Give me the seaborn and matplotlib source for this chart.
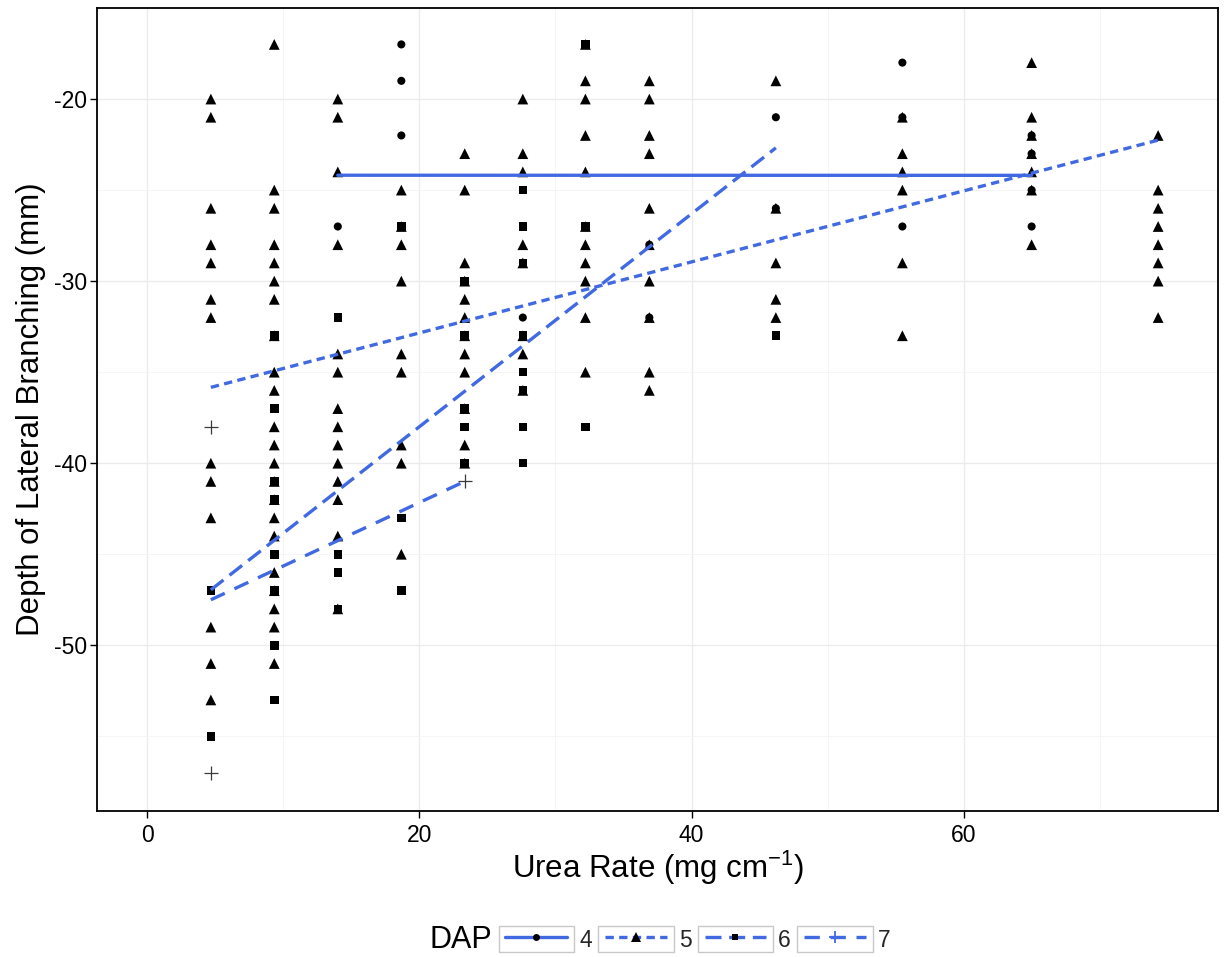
import numpy as np
import pandas as pd
import matplotlib
matplotlib.use("Agg")
import matplotlib.pyplot as plt
import seaborn as sns
from matplotlib.lines import Line2D
from matplotlib.patches import Rectangle
from matplotlib.legend_handler import HandlerLine2D

# ---------------- data ----------------
dap_levels = [4, 5, 6, 7]

dap4_x = [14, 18.67, 18.67, 18.67, 27.6, 36.9, 36.9, 46.2, 46.2, 55.5, 55.5, 55.5, 65, 65, 65, 65]
dap4_y = [-27, -17, -19, -22, -32, -28, -32, -21, -26, -18, -21, -27, -22, -23, -25, -27]

dap5_x = ([4.67] * 13 + [9.33] * 22 + [14] * 14 + [18.67] * 9 + [23.33] * 12 + [27.6] * 8 +
          [32.2] * 11 + [36.9] * 10 + [46.2] * 5 + [55.5] * 6 + [65] * 7 + [74.3] * 8)
dap5_y = ([-20, -21, -26, -28, -29, -31, -32, -40, -41, -43, -49, -51, -53] +
          [-17, -25, -26, -28, -29, -30, -31, -33, -35, -36, -38, -39, -40, -41, -42, -43, -44, -46,
           -47, -48, -49, -51] +
          [-20, -21, -24, -28, -34, -35, -37, -38, -39, -40, -41, -42, -44, -48] +
          [-25, -27, -28, -30, -34, -35, -39, -40, -45] +
          [-23, -25, -29, -30, -31, -32, -33, -34, -35, -37, -39, -40] +
          [-20, -23, -24, -28, -29, -33, -34, -36] +
          [-17, -19, -20, -22, -24, -27, -28, -29, -30, -32, -35] +
          [-19, -20, -22, -23, -26, -28, -30, -32, -35, -36] +
          [-19, -26, -29, -31, -32] +
          [-21, -23, -24, -25, -29, -33] +
          [-18, -21, -22, -23, -24, -25, -28] +
          [-22, -25, -26, -27, -28, -29, -30, -32])

dap6_x = ([4.67] * 2 + [9.33] * 8 + [14] * 4 + [18.67] * 3 + [23.33] * 5 + [27.6] * 8 +
          [32.2] * 3 + [46.2] * 1)
dap6_y = ([-47, -55] +
          [-33, -37, -41, -42, -45, -47, -50, -53] +
          [-32, -45, -46, -48] +
          [-27, -43, -47] +
          [-30, -33, -37, -38, -40] +
          [-25, -27, -29, -33, -35, -36, -38, -40] +
          [-17, -27, -38] +
          [-33])

dap7_x = [4.67, 4.67, 23.33]
dap7_y = [-38, -57, -41]

x_ticks = [0, 20, 40, 60]
y_ticks = [-50, -40, -30, -20]
x_label = "Urea Rate (mg cm$^{-1}$)"
y_label = "Depth of Lateral Branching (mm)"
legend_title = "DAP"

df = pd.concat([
    pd.DataFrame({"urea": dap4_x, "depth": dap4_y, "DAP": 4}),
    pd.DataFrame({"urea": dap5_x, "depth": dap5_y, "DAP": 5}),
    pd.DataFrame({"urea": dap6_x, "depth": dap6_y, "DAP": 6}),
    pd.DataFrame({"urea": dap7_x, "depth": dap7_y, "DAP": 7}),
], ignore_index=True)

# ---------------- style ----------------
sns.set_theme(style="white")
plt.rcParams["font.family"] = ["Liberation Sans", "DejaVu Sans"]
plt.rcParams["mathtext.fontset"] = "custom"
plt.rcParams["mathtext.rm"] = "Liberation Sans"
plt.rcParams["mathtext.default"] = "regular"
plt.rcParams["axes.unicode_minus"] = False

line_color = "#4169E1"
lw = 2.4
markers = {4: "o", 5: "^", 6: "s", 7: "+"}
msize = {4: 34, 5: 60, 6: 38, 7: 90}
dash = {4: None, 5: (2.5, 1.6), 6: (4.8, 2.3), 7: (4.6, 3.2)}

fig = plt.figure(figsize=(12.25, 9.57), dpi=100)
ax = fig.add_axes([97 / 1225, 1 - 811 / 957, (1218 - 97) / 1225, (811 - 8) / 957])

for lvl in dap_levels:
    sub = df[df["DAP"] == lvl]
    if lvl == 7:
        sns.scatterplot(data=sub, x="urea", y="depth", marker="+", s=msize[lvl],
                        color="#3a3a3a", linewidth=0.9, ax=ax, zorder=3, legend=False)
    else:
        sns.scatterplot(data=sub, x="urea", y="depth", marker=markers[lvl], s=msize[lvl],
                        color="black", edgecolor="none", linewidth=0, ax=ax, zorder=3, legend=False)

for lvl in dap_levels:
    sub = df[df["DAP"] == lvl]
    kws = dict(color=line_color, lw=lw, zorder=4)
    if dash[lvl] is not None:
        kws["dashes"] = dash[lvl]
    sns.regplot(data=sub, x="urea", y="depth", scatter=False, ci=None, truncate=True,
                line_kws=kws, ax=ax)

ax.set_xlim(-3.7, 78.7)
ax.set_ylim(-59.1, -15.1)
ax.set_xticks(x_ticks)
ax.set_yticks(y_ticks)
ax.set_xticks([10, 30, 50, 70], minor=True)
ax.set_yticks([-55, -45, -35, -25, -15], minor=True)
ax.grid(which="major", color="#EBEBEB", lw=1.0)
ax.grid(which="minor", color="#F4F4F4", lw=0.6)
ax.set_axisbelow(True)
ax.tick_params(which="major", direction="out", length=5, width=1.0, color="black",
               labelsize=16.5, labelcolor="black", pad=2, bottom=True, left=True)
ax.tick_params(axis="x", which="major", pad=4)
ax.tick_params(which="minor", length=0)
for sp in ax.spines.values():
    sp.set_color("black")
    sp.set_linewidth(1.3)
ax.set_xlabel(x_label, fontsize=22.5, labelpad=1.5, color="black")
ax.set_ylabel(y_label, fontsize=22.5, labelpad=6, color="black")


class BoxedHandler(HandlerLine2D):
    def create_artists(self, legend, orig_handle, xdescent, ydescent, width, height,
                       fontsize, trans):
        arts = super().create_artists(legend, orig_handle, xdescent, ydescent, width,
                                      height, fontsize, trans)
        padx = 5.0
        h = 18.7
        cy = -ydescent + height / 2
        rect = Rectangle((-xdescent - padx, cy - h / 2), width + 2 * padx, h,
                         fill=False, edgecolor="#c8c8c8", lw=1.0, transform=trans)
        return [rect] + arts


handles = []
for lvl in dap_levels:
    ls = "-" if dash[lvl] is None else (0, dash[lvl])
    mk = markers[lvl]
    msz = {"o": 5, "^": 6.5, "s": 5, "+": 9}[mk]
    h = Line2D([], [], color=line_color, lw=lw, linestyle=ls, marker=mk,
               markersize=msz, markerfacecolor=line_color if mk == "+" else "black",
               markeredgecolor=line_color if mk == "+" else "black",
               markeredgewidth=1.3 if mk == "+" else 0)
    handles.append(h)

leg = fig.legend(handles, [str(v) for v in dap_levels], loc="center",
                 bbox_to_anchor=(698 / 1225, 1 - 940 / 957), ncol=4, frameon=False,
                 fontsize=16.5, handlelength=2.7, handleheight=1.0, handletextpad=0.52,
                 columnspacing=0.57, numpoints=1,
                 handler_map={Line2D: BoxedHandler()})
fig.text(492 / 1225, 1 - 940 / 957, legend_title, ha="right", va="center",
         fontsize=22, color="black")

fig.savefig("out.png", dpi=100, facecolor="white")
